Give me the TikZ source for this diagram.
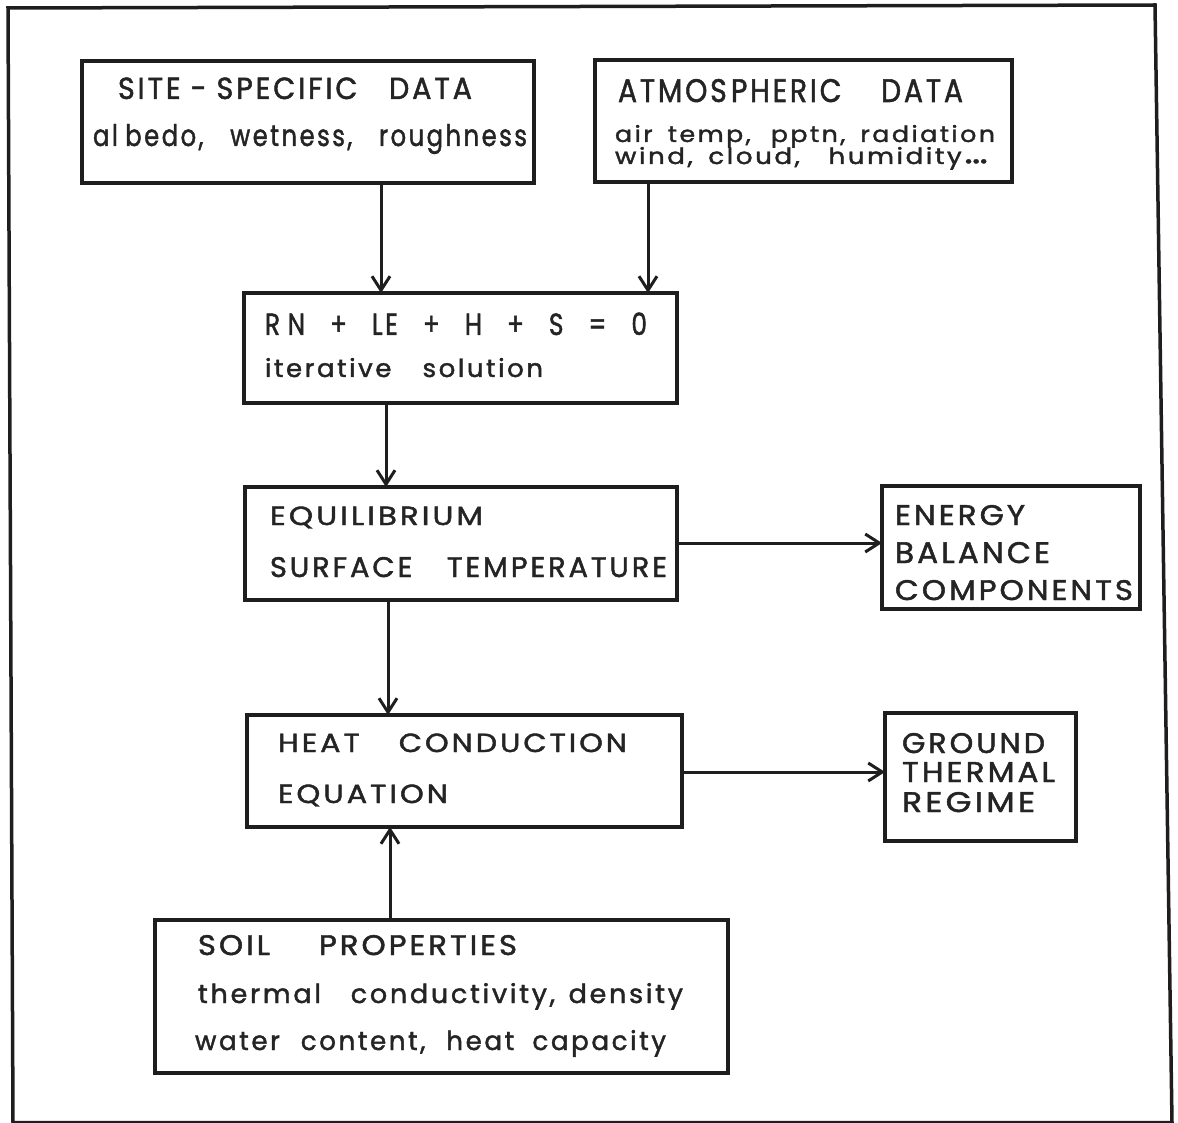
\documentclass[tikz,border=0pt]{standalone}
\usepackage{fontspec}
\usepackage{graphicx}
\setmainfont{Poppins}[LetterSpace=10, FakeBold=1.6]
\usetikzlibrary{arrows.meta}
\definecolor{ink}{HTML}{1E1E1E}
\definecolor{txt}{HTML}{242424}
\newcommand\fitline[3]{\resizebox{#1pt}{#2pt}{#3}}
\tikzset{
  box/.style={draw=ink, line width=4pt, rectangle, inner sep=0pt, outer sep=0pt},
  lbl/.style={anchor=base west, inner sep=0pt, outer sep=0pt, text=txt,
              font=\fontsize{26}{28}\selectfont},
  arr/.style={draw=ink, line width=3pt, -{Straight Barb[length=14pt,width=18pt]}},
  frame/.style={draw=ink, line width=3.5pt, line join=miter}
}
\begin{document}
\begin{tikzpicture}[x=1pt,y=-1pt]
\useasboundingbox (0,0) rectangle (1178,1123);
% outer frame
\draw[frame] (8,8) -- (1155,5) -- (1172,1122.5) -- (13,1122.5) -- cycle;

% boxes
\node[box, minimum width=452pt, minimum height=122pt] (site)   at (308,122) {};
\node[box, minimum width=417pt, minimum height=122pt] (atmos)  at (803.5,121) {};
\node[box, minimum width=433pt, minimum height=110pt] (rn)     at (460.5,348) {};
\node[box, minimum width=432pt, minimum height=113pt] (eq)     at (461,543.5) {};
\node[box, minimum width=258pt, minimum height=123pt] (energy) at (1011,547.5) {};
\node[box, minimum width=435pt, minimum height=112pt] (heat)   at (464.5,771) {};
\node[box, minimum width=191pt, minimum height=128pt] (ground) at (980.5,777) {};
\node[box, minimum width=573pt, minimum height=153pt] (soil)   at (441.5,996.5) {};

% texts
\node[lbl] (t1) at (118,99) {\fitline{354}{21.5}{SITE\hspace{.35em}-\hspace{.35em}SPECIFIC\hspace{1.1em}DATA}};
\node[lbl] (t2) at (93,146) {\fitline{434}{22}{al\kern.3em bedo,\hspace{1.1em}wetness,\hspace{1.1em}roughness}};
\node[lbl] (t3) at (618,102) {\fitline{345}{23}{ATMOS\kern.15em PHERIC\hspace{1.4em}DATA}};
\node[lbl] (t4) at (615,142) {\fitline{380}{17}{air\hspace{.6em}temp,\hspace{.8em}pptn,\hspace{.6em}radiation}};
\node[lbl] (t5) at (615,164) {\fitline{373}{17}{wind,\hspace{.6em}cloud,\hspace{1.1em}humidity\kern.1em\raisebox{-.15em}{\scalebox{.8}{•\kern-.05em•\kern-.05em•}}}};
\node[lbl] (t6) at (265,335) {\fitline{382}{22.5}{R\kern.3em N\hspace{1em}+\hspace{1em}LE\hspace{1em}+\hspace{1em}H\hspace{1em}+\hspace{1em}S\hspace{1em}=\hspace{1em}0}};
\node[lbl] (t7) at (265,377) {\fitline{278}{19}{iterative\hspace{1.2em}solution}};
\node[lbl] (t8) at (270,525) {\fitline{213}{18.5}{EQUILIBRIUM}};
\node[lbl] (t9) at (270,577) {\fitline{397}{20}{SURFACE\hspace{1.2em}TEMPERATURE}};
\node[lbl] (t10) at (278,752) {\fitline{349}{18.5}{HEAT\hspace{1.3em}CONDUCTION}};
\node[lbl] (t11) at (278,803) {\fitline{170}{18.5}{EQUATION}};
\node[lbl] (t12) at (895,525) {\fitline{130}{20}{ENERGY}};
\node[lbl] (t13) at (895,563) {\fitline{155}{21}{BALAN\kern.1em CE}};
\node[lbl] (t14) at (895,600) {\fitline{238}{20}{COMPONENTS}};
\node[lbl] (t15) at (902,753) {\fitline{143}{20}{GROUND}};
\node[lbl] (t16) at (902,782) {\fitline{153}{20}{THERMAL}};
\node[lbl] (t17) at (902,812) {\fitline{133}{20}{REGIME}};
\node[lbl] (t18) at (198,955) {\fitline{319}{20}{SOIL\hspace{1.6em}PROPERTIES}};
\node[lbl] (t19) at (198,1003) {\fitline{485}{20}{thermal\hspace{1.1em}conductivity,\hspace{.5em}density}};
\node[lbl] (t20) at (195,1050) {\fitline{471}{20}{water\hspace{.8em}content,\hspace{.8em}heat\hspace{.7em}capacity}};

% connector guide coordinates
\coordinate (ax1) at (381,0);
\coordinate (ax2) at (648,0);
\coordinate (ax3) at (386,0);
\coordinate (ax4) at (388,0);
\coordinate (ax5) at (390,0);
\coordinate (ay1) at (0,543);
\coordinate (ay2) at (0,772);

% connectors
\draw[arr] (site.south -| ax1) -- (rn.north -| ax1);
\draw[arr] (atmos.south -| ax2) -- (rn.north -| ax2);
\draw[arr] (rn.south -| ax3) -- (eq.north -| ax3);
\draw[arr] (eq.east |- ay1) -- (energy.west |- ay1);
\draw[arr] (eq.south -| ax4) -- (heat.north -| ax4);
\draw[arr] (heat.east |- ay2) -- (ground.west |- ay2);
\draw[arr] (soil.north -| ax5) -- (heat.south -| ax5);
\end{tikzpicture}
\end{document}
